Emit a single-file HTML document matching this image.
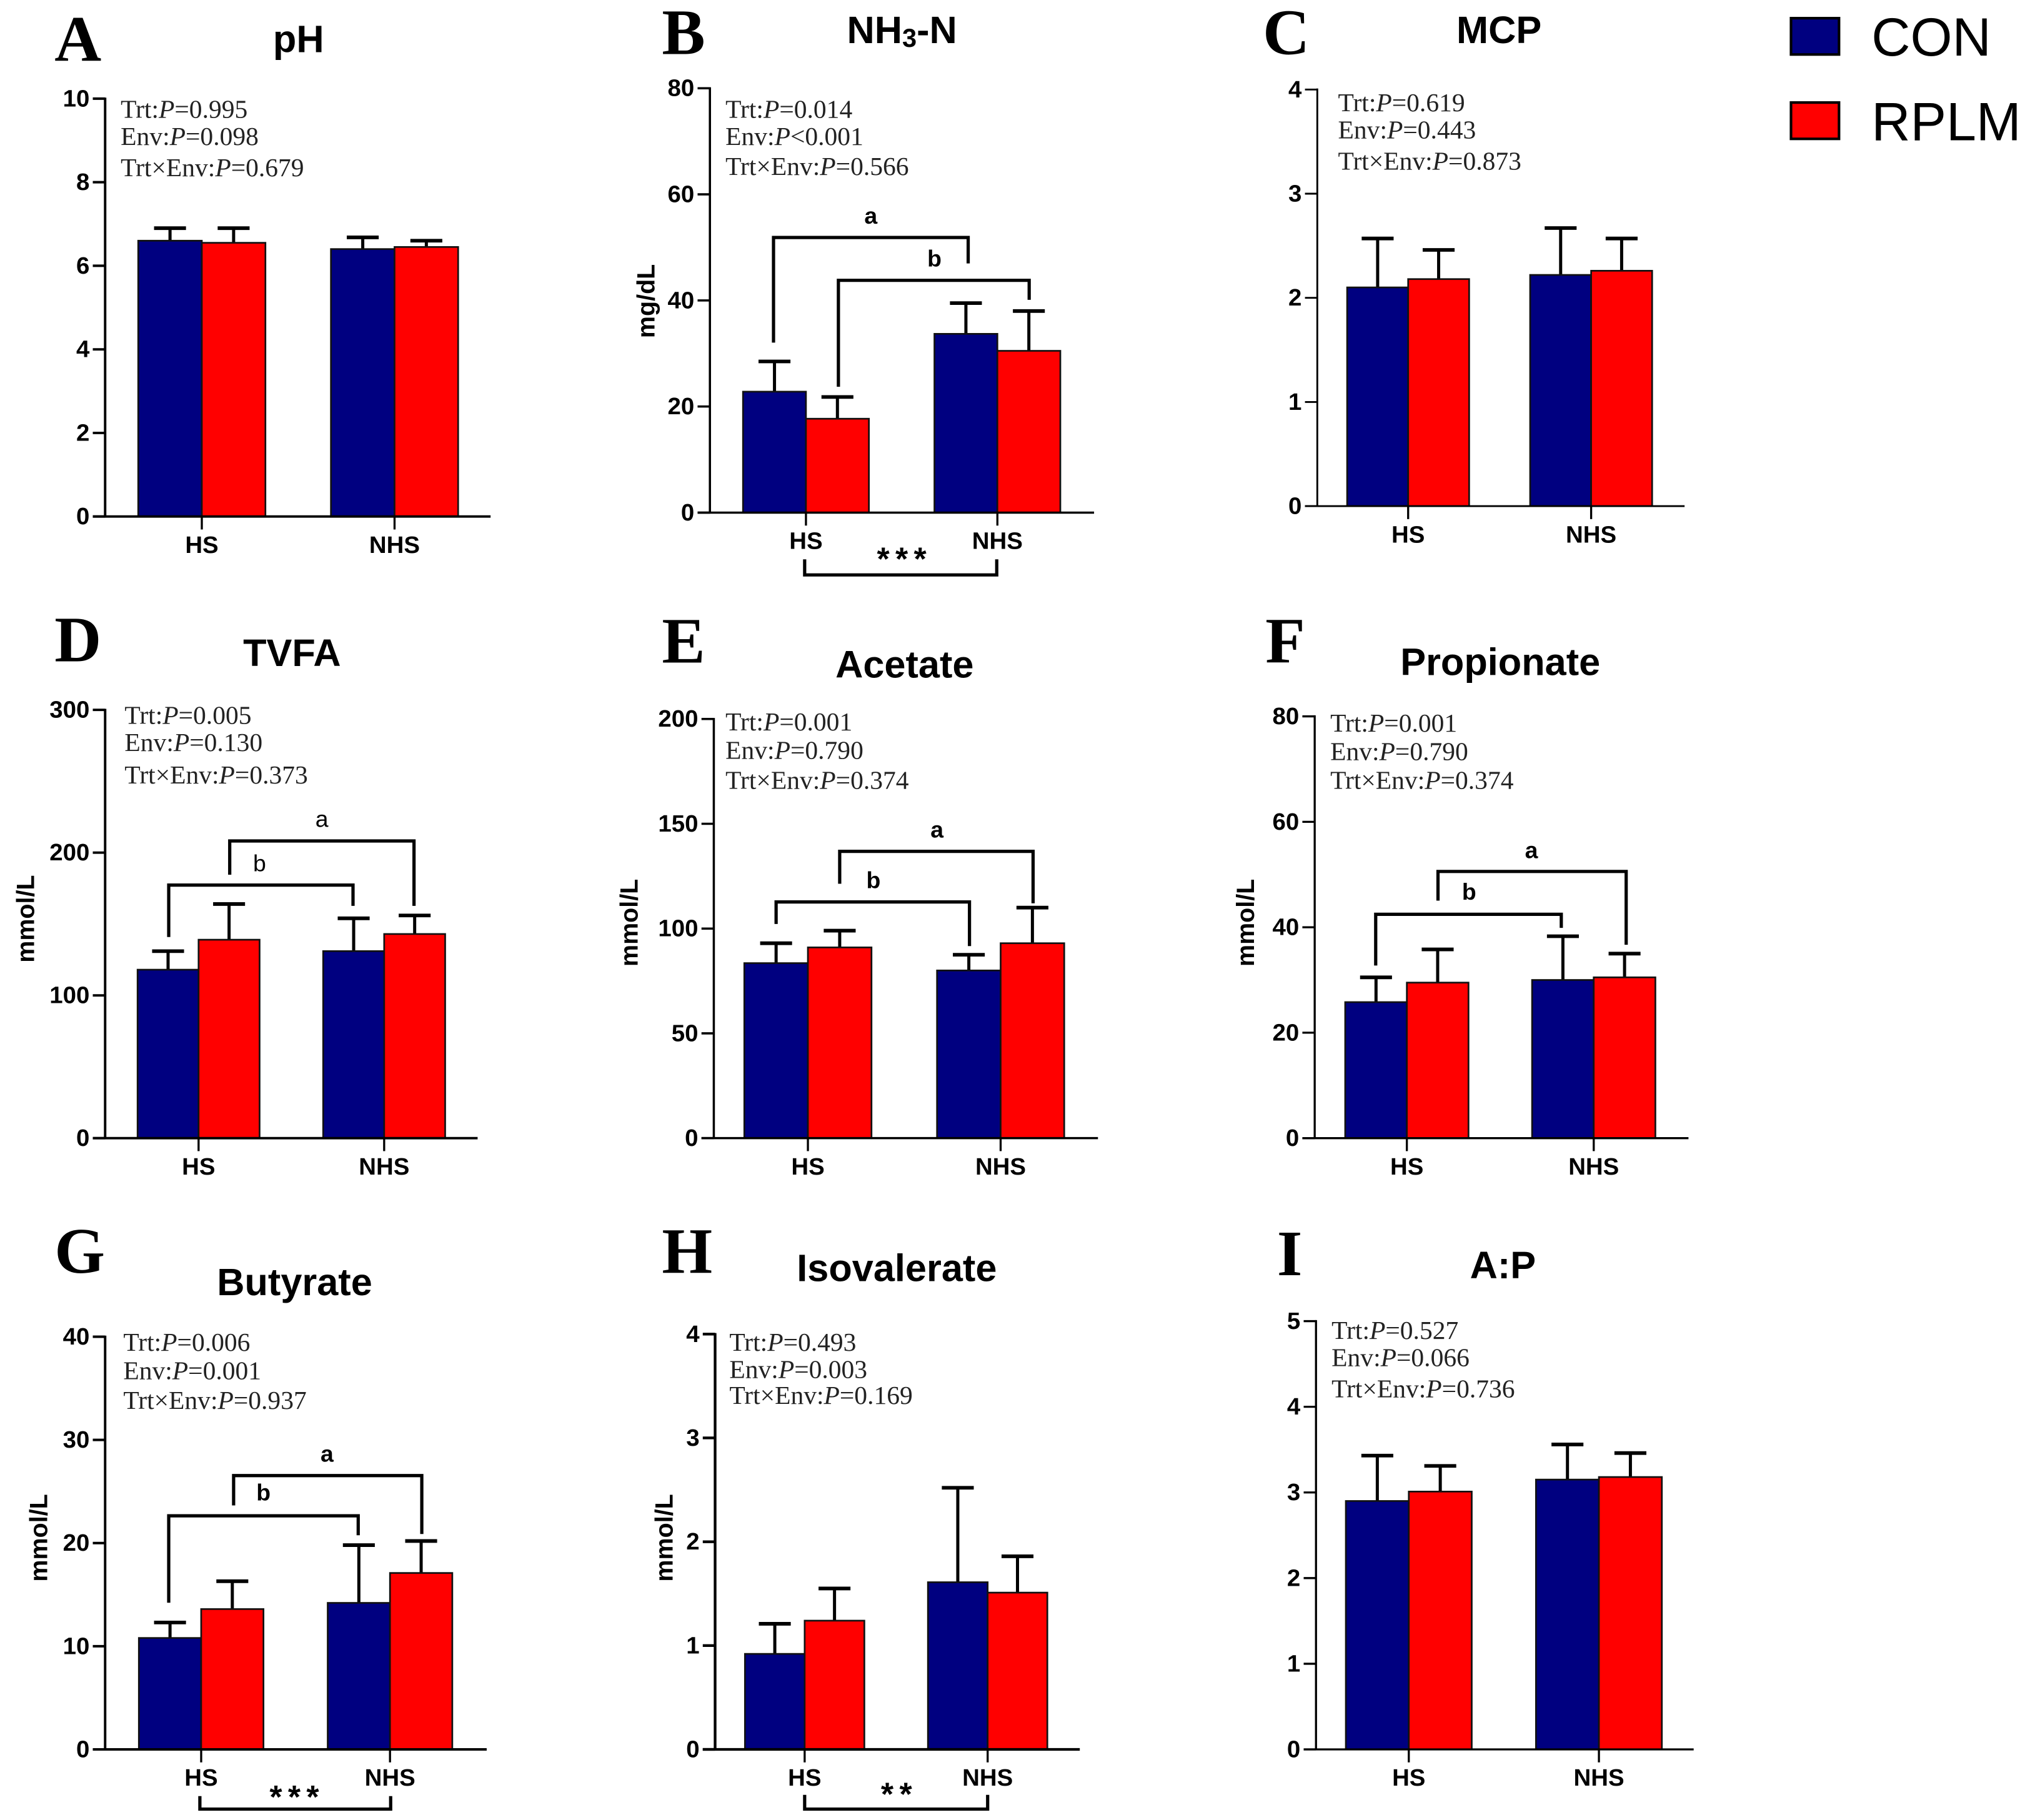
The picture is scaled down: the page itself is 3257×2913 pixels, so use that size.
<!DOCTYPE html>
<html lang="en">
<head>
<meta charset="utf-8">
<title>Rumen fermentation bar charts</title>
<style>
html,body{margin:0;padding:0;background:#fff;}
svg{display:block;width:3257px;height:2913px;background:#fff;}
text{font-family:"Liberation Sans",sans-serif;fill:#000;dominant-baseline:central;}
.letter{font-family:"Liberation Serif",serif;font-weight:bold;font-size:50px;}
.title{font-weight:bold;font-size:29.5px;text-anchor:middle;}
.stat{font-family:"Liberation Serif",serif;font-size:20px;fill:#222;}
.ylab{font-weight:bold;font-size:19px;text-anchor:middle;}
.tick{font-weight:bold;font-size:18.5px;text-anchor:end;}
.xlab{font-weight:bold;font-size:18.5px;text-anchor:middle;}
.sig{font-weight:bold;font-size:18px;text-anchor:middle;}
.stars{font-weight:bold;font-size:25px;text-anchor:middle;letter-spacing:4.5px;}
.legend{font-size:41.5px;}
.br{fill:none;stroke:#000;stroke-width:2.5;}
</style>
</head>
<body>
<svg id="figure" viewBox="0 0 1568 1402.4" xmlns="http://www.w3.org/2000/svg">
  <!-- panel letters -->
  <text class="letter" x="42" y="30">A</text>
  <text class="letter" x="510" y="25">B</text>
  <text class="letter" x="973" y="25">C</text>
  <text class="letter" x="42" y="493">D</text>
  <text class="letter" x="510" y="494">E</text>
  <text class="letter" x="975" y="494">F</text>
  <text class="letter" x="42" y="964">G</text>
  <text class="letter" x="510" y="964">H</text>
  <text class="letter" x="984" y="966">I</text>

  <!-- titles -->
  <text class="title" x="230" y="30">pH</text>
  <text class="title" x="695" y="23">NH<tspan dy="6" font-size="20">3</tspan><tspan dy="-6">-N</tspan></text>
  <text class="title" x="1155" y="23">MCP</text>
  <text class="title" x="225" y="503">TVFA</text>
  <text class="title" x="697" y="512">Acetate</text>
  <text class="title" x="1156" y="510">Propionate</text>
  <text class="title" x="227" y="988">Butyrate</text>
  <text class="title" x="691" y="977">Isovalerate</text>
  <text class="title" x="1158" y="975">A:P</text>

  <!-- y axis titles -->
  <text class="ylab" transform="translate(498,232) rotate(-90)">mg/dL</text>
  <text class="ylab" transform="translate(20,708) rotate(-90)">mmol/L</text>
  <text class="ylab" transform="translate(485,711) rotate(-90)">mmol/L</text>
  <text class="ylab" transform="translate(960,711) rotate(-90)">mmol/L</text>
  <text class="ylab" transform="translate(30,1185) rotate(-90)">mmol/L</text>
  <text class="ylab" transform="translate(512,1185) rotate(-90)">mmol/L</text>

  <!-- statistics -->
  <g>
    <text class="stat" x="93" y="84">Trt:<tspan font-style="italic">P</tspan>=0.995</text>
    <text class="stat" x="93" y="105">Env:<tspan font-style="italic">P</tspan>=0.098</text>
    <text class="stat" x="93" y="129">Trt×Env:<tspan font-style="italic">P</tspan>=0.679</text>
  </g>
  <g>
    <text class="stat" x="559" y="84">Trt:<tspan font-style="italic">P</tspan>=0.014</text>
    <text class="stat" x="559" y="105">Env:<tspan font-style="italic">P</tspan>&lt;0.001</text>
    <text class="stat" x="559" y="128">Trt×Env:<tspan font-style="italic">P</tspan>=0.566</text>
  </g>
  <g>
    <text class="stat" x="1031" y="79">Trt:<tspan font-style="italic">P</tspan>=0.619</text>
    <text class="stat" x="1031" y="100">Env:<tspan font-style="italic">P</tspan>=0.443</text>
    <text class="stat" x="1031" y="124">Trt×Env:<tspan font-style="italic">P</tspan>=0.873</text>
  </g>
  <g>
    <text class="stat" x="96" y="551">Trt:<tspan font-style="italic">P</tspan>=0.005</text>
    <text class="stat" x="96" y="572">Env:<tspan font-style="italic">P</tspan>=0.130</text>
    <text class="stat" x="96" y="597">Trt×Env:<tspan font-style="italic">P</tspan>=0.373</text>
  </g>
  <g>
    <text class="stat" x="559" y="556">Trt:<tspan font-style="italic">P</tspan>=0.001</text>
    <text class="stat" x="559" y="578">Env:<tspan font-style="italic">P</tspan>=0.790</text>
    <text class="stat" x="559" y="601">Trt×Env:<tspan font-style="italic">P</tspan>=0.374</text>
  </g>
  <g>
    <text class="stat" x="1025" y="557">Trt:<tspan font-style="italic">P</tspan>=0.001</text>
    <text class="stat" x="1025" y="579">Env:<tspan font-style="italic">P</tspan>=0.790</text>
    <text class="stat" x="1025" y="601">Trt×Env:<tspan font-style="italic">P</tspan>=0.374</text>
  </g>
  <g>
    <text class="stat" x="95" y="1034">Trt:<tspan font-style="italic">P</tspan>=0.006</text>
    <text class="stat" x="95" y="1056">Env:<tspan font-style="italic">P</tspan>=0.001</text>
    <text class="stat" x="95" y="1079">Trt×Env:<tspan font-style="italic">P</tspan>=0.937</text>
  </g>
  <g>
    <text class="stat" x="562" y="1034">Trt:<tspan font-style="italic">P</tspan>=0.493</text>
    <text class="stat" x="562" y="1055">Env:<tspan font-style="italic">P</tspan>=0.003</text>
    <text class="stat" x="562" y="1075">Trt×Env:<tspan font-style="italic">P</tspan>=0.169</text>
  </g>
  <g>
    <text class="stat" x="1026" y="1025">Trt:<tspan font-style="italic">P</tspan>=0.527</text>
    <text class="stat" x="1026" y="1046">Env:<tspan font-style="italic">P</tspan>=0.066</text>
    <text class="stat" x="1026" y="1070">Trt×Env:<tspan font-style="italic">P</tspan>=0.736</text>
  </g>

  <!-- charts are drawn here -->
  <g id="charts"></g>

  <!-- significance brackets -->
  <g>
    <path class="br" d="M596 264V183H746V203"/>
    <path class="br" d="M646 298V216H793V231"/>
    <text class="sig" x="671" y="166">a</text>
    <text class="sig" x="720" y="199">b</text>
    <path class="br" d="M620 431V443H768V431"/>
    <text class="stars" x="697" y="431">***</text>
  </g>
  <g>
    <path class="br" d="M177 674V648H319V698"/>
    <path class="br" d="M130 722V682H272V698"/>
    <text class="sig" x="248" y="631" style="font-weight:normal">a</text>
    <text class="sig" x="200" y="665" style="font-weight:normal">b</text>
  </g>
  <g>
    <path class="br" d="M647 681V656H796V696"/>
    <path class="br" d="M598 712V695H747V729"/>
    <text class="sig" x="722" y="639">a</text>
    <text class="sig" x="673" y="678">b</text>
  </g>
  <g>
    <path class="br" d="M1108 694V671.5H1253V728"/>
    <path class="br" d="M1060 744V704.5H1203V715"/>
    <text class="sig" x="1180" y="655">a</text>
    <text class="sig" x="1132" y="687">b</text>
  </g>
  <g>
    <path class="br" d="M180 1160V1137H325V1182"/>
    <path class="br" d="M130 1235V1168H276V1183"/>
    <text class="sig" x="252" y="1120">a</text>
    <text class="sig" x="203" y="1150">b</text>
    <path class="br" d="M154 1384V1394H301V1384"/>
    <text class="stars" x="229" y="1385">***</text>
  </g>
  <g>
    <path class="br" d="M620 1383V1394H761V1383"/>
    <text class="stars" x="693" y="1383">**</text>
  </g>

  <!-- legend -->
  <g>
    <g>
      <rect x="1380" y="14" width="37" height="28" fill="#000080" stroke="#000" stroke-width="2"/>
      <text class="legend" x="1442" y="29">CON</text>
    </g>
    <g>
      <rect x="1380" y="79" width="37" height="28" fill="#ff0000" stroke="#000" stroke-width="2"/>
      <text class="legend" x="1442" y="94">RPLM</text>
    </g>
  </g>
</svg>

<script>
const categories = ['HS', 'NHS'];

const phTicks = [0, 2, 4, 6, 8, 10];
const phCon = [6.6, 6.4];
const phRplm = [6.55, 6.45];
const phConErr = [0.3, 0.28];
const phRplmErr = [0.35, 0.15];

const nh3Ticks = [0, 20, 40, 60, 80];
const nh3Con = [22.8, 33.7];
const nh3Rplm = [17.7, 30.5];
const nh3ConErr = [5.7, 5.8];
const nh3RplmErr = [4.1, 7.5];

const mcpTicks = [0, 1, 2, 3, 4];
const mcpCon = [2.1, 2.22];
const mcpRplm = [2.18, 2.26];
const mcpConErr = [0.47, 0.45];
const mcpRplmErr = [0.28, 0.31];

const tvfaTicks = [0, 100, 200, 300];
const tvfaCon = [118, 131];
const tvfaRplm = [139, 143];
const tvfaConErr = [13, 23];
const tvfaRplmErr = [25, 13];

const acetateTicks = [0, 50, 100, 150, 200];
const acetateCon = [83.5, 80];
const acetateRplm = [91, 93];
const acetateConErr = [9.5, 7.5];
const acetateRplmErr = [8, 17];

const propionateTicks = [0, 20, 40, 60, 80];
const propionateCon = [25.8, 30];
const propionateRplm = [29.5, 30.5];
const propionateConErr = [4.7, 8.3];
const propionateRplmErr = [6.3, 4.5];

const butyrateTicks = [0, 10, 20, 30, 40];
const butyrateCon = [10.8, 14.2];
const butyrateRplm = [13.6, 17.1];
const butyrateConErr = [1.5, 5.6];
const butyrateRplmErr = [2.7, 3.1];

const isovalerateTicks = [0, 1, 2, 3, 4];
const isovalerateCon = [0.92, 1.61];
const isovalerateRplm = [1.24, 1.51];
const isovalerateConErr = [0.29, 0.91];
const isovalerateRplmErr = [0.31, 0.35];

const apTicks = [0, 1, 2, 3, 4, 5];
const apCon = [2.9, 3.15];
const apRplm = [3.01, 3.18];
const apConErr = [0.53, 0.41];
const apRplmErr = [0.3, 0.28];

/* Frame geometry of each panel (pixels in the viewBox); the data above goes through these axes. */
const panels = [
  {id:'ph', ticks:phTicks, con:phCon, rplm:phRplm, conErr:phConErr, rplmErr:phRplmErr, ax:81, top:76, bot:398, end:378, first:155.5, step:148.5, bw:49, w:1.9},
  {id:'nh3-n', ticks:nh3Ticks, con:nh3Con, rplm:nh3Rplm, conErr:nh3ConErr, rplmErr:nh3RplmErr, ax:547, top:68, bot:395, end:843, first:621, step:147.5, bw:48.5, w:1.7},
  {id:'mcp', ticks:mcpTicks, con:mcpCon, rplm:mcpRplm, conErr:mcpConErr, rplmErr:mcpRplmErr, ax:1015, top:69, bot:390, end:1298, first:1085, step:141, bw:47, w:1.4},
  {id:'tvfa', ticks:tvfaTicks, con:tvfaCon, rplm:tvfaRplm, conErr:tvfaConErr, rplmErr:tvfaRplmErr, ax:81, top:547, bot:877, end:368, first:153, step:143, bw:47, w:1.9},
  {id:'acetate', ticks:acetateTicks, con:acetateCon, rplm:acetateRplm, conErr:acetateConErr, rplmErr:acetateRplmErr, ax:550, top:554, bot:877, end:846, first:622.5, step:148.5, bw:49, w:1.7},
  {id:'propionate', ticks:propionateTicks, con:propionateCon, rplm:propionateRplm, conErr:propionateConErr, rplmErr:propionateRplmErr, ax:1013, top:552, bot:877, end:1301, first:1084, step:144, bw:47.5, w:1.6},
  {id:'butyrate', ticks:butyrateTicks, con:butyrateCon, rplm:butyrateRplm, conErr:butyrateConErr, rplmErr:butyrateRplmErr, ax:81, top:1030, bot:1348, end:375, first:155, step:145.5, bw:48, w:1.9},
  {id:'isovalerate', ticks:isovalerateTicks, con:isovalerateCon, rplm:isovalerateRplm, conErr:isovalerateConErr, rplmErr:isovalerateRplmErr, ax:551, top:1028, bot:1348, end:832, first:620, step:141, bw:46, w:2.1},
  {id:'a-p', ticks:apTicks, con:apCon, rplm:apRplm, conErr:apConErr, rplmErr:apRplmErr, ax:1014, top:1018, bot:1348, end:1305, first:1085.5, step:146.5, bw:48.5, w:1.6}
];

const svgNS = 'http://www.w3.org/2000/svg';

function make(parent, tag, attrs, txt) {
  const node = document.createElementNS(svgNS, tag);
  for (const k in attrs) node.setAttribute(k, attrs[k]);
  if (txt !== undefined) node.textContent = txt;
  parent.appendChild(node);
  return node;
}

function drawPanel(p, root) {
  const yMax = p.ticks[p.ticks.length - 1];
  const yScale = v => p.bot - (v / yMax) * (p.bot - p.top);
  const xScale = i => p.first + i * p.step;

  const g = make(root, 'g', {});
  
  

  const seriesList = [
    {values: p.con, errs: p.conErr, color: '#000080', dir: -1},
    {values: p.rplm, errs: p.rplmErr, color: '#ff0000', dir: 0}
  ];

  seriesList.forEach(s => {
    s.values.forEach((v, i) => {
      const cx = xScale(i) + s.dir * p.bw + p.bw / 2;
      const stem = make(g, 'line', {x1: cx, x2: cx, y1: yScale(v), y2: yScale(v + s.errs[i]), stroke: '#000', 'stroke-width': 2.4});
      
      

      const cap = make(g, 'line', {x1: cx - 12.3, x2: cx + 12.3, y1: yScale(v + s.errs[i]), y2: yScale(v + s.errs[i]), stroke: '#000', 'stroke-width': 2.8});
      
      

      const bar = make(g, 'rect', {
        x: xScale(i) + s.dir * p.bw, y: yScale(v), width: p.bw, height: p.bot - yScale(v),
        fill: s.color, stroke: '#111', 'stroke-width': 1.3
      });
      
      
    });
  });

  const yAxis = make(g, 'line', {x1: p.ax, x2: p.ax, y1: p.top - 0.8, y2: p.bot, stroke: '#000', 'stroke-width': p.w});
  
  

  const xAxis = make(g, 'line', {x1: p.ax - 9.5, x2: p.end, y1: p.bot, y2: p.bot, stroke: '#000', 'stroke-width': p.w});
  
  

  p.ticks.forEach(t => {
    const mark = make(g, 'line', {x1: p.ax - 9.5, x2: p.ax, y1: yScale(t), y2: yScale(t), stroke: '#000', 'stroke-width': p.w});
    
    

    const label = make(g, 'text', {class: 'tick', x: p.ax - 12, y: yScale(t)}, String(t));
    
    
  });

  categories.forEach((c, i) => {
    const mark = make(g, 'line', {x1: xScale(i), x2: xScale(i), y1: p.bot, y2: p.bot + 10, stroke: '#000', 'stroke-width': 1.6});
    
    

    const label = make(g, 'text', {class: 'xlab', x: xScale(i), y: p.bot + 22}, c);
    
    
  });
}

const chartRoot = document.getElementById('charts');
panels.forEach(p => drawPanel(p, chartRoot));
</script>
</body>
</html>
